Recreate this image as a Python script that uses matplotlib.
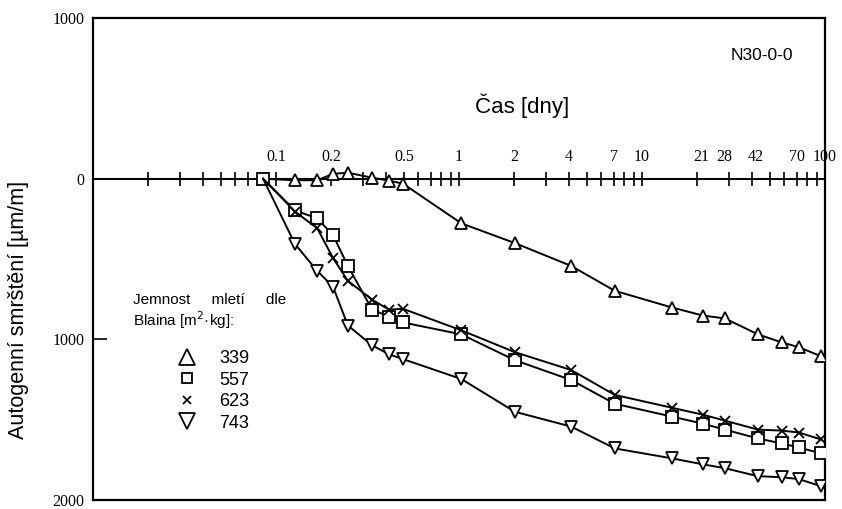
import matplotlib
matplotlib.use('Agg')
import matplotlib.pyplot as plt
from matplotlib.lines import Line2D
from matplotlib.ticker import LogLocator, FixedLocator, FixedFormatter, NullFormatter

# ---- data ----
cas_dny = [0.085, 0.127, 0.168, 0.205, 0.247, 0.335, 0.414, 0.494, 1.03, 2.02,
           4.1, 7.1, 14.6, 21.5, 28.4, 43, 58, 72, 95]
s339 = [0, 10, 10, -30, -37, -6, 12, 31, 278, 401, 543, 698, 802, 852, 870,
        969, 1019, 1049, 1105]
s557 = [0, 198, 247, 352, 543, 815, 858, 895, 969, 1130, 1253, 1401, 1481,
        1525, 1562, 1617, 1648, 1673, 1710]
s623 = [0, 205, 309, 494, 636, 753, 815, 810, 944, 1080, 1191, 1346, 1426,
        1469, 1506, 1562, 1568, 1580, 1623]
s743 = [0, 407, 574, 673, 914, 1037, 1093, 1123, 1247, 1451, 1543, 1679, 1741,
        1778, 1802, 1852, 1858, 1870, 1914]
jemnost = ['339', '557', '623', '743']

x_tick_vals = [0.1, 0.2, 0.5, 1, 2, 4, 7, 10, 21, 28, 42, 70, 100]
x_tick_labels = ['0.1', '0.2', '0.5', '1', '2', '4', '7', '10', '21', '28', '42', '70', '100']
y_tick_vals = [-1000, 0, 1000, 2000]
y_tick_labels = ['1000', '0', '1000', '2000']

W, H = 842, 509
fig = plt.figure(figsize=(W / 100, H / 100), dpi=100)
ax = fig.add_axes([93 / W, 1 - 500 / H, 732 / W, 482 / H])

series = [(s339, '^', 8.5, True), (s557, 's', 8, False),
          (s623, 'x', 7, True), (s743, 'v', 8.5, True)]
for vals, m, ms, skip_first in series:
    every = list(range(1, len(vals))) if skip_first else None
    ax.plot(cas_dny, vals, color='black', lw=1.4, marker=m, ms=ms,
            mfc='white', mec='black', mew=1.3, markevery=every, zorder=3)

ax.set_xscale('log')
ax.set_xlim(0.01, 100)
ax.set_ylim(2000, -1000)

# frame
for sp in ax.spines.values():
    sp.set_linewidth(1.6)
ax.spines['top'].set_position(('data', 0))
ax.spines['top'].set_linewidth(1.5)
ax.plot([0, 1], [1, 1], transform=ax.transAxes, color='black', lw=1.6,
        clip_on=False)

# x axis (time) along the zero line
ax.xaxis.tick_top()
ax.xaxis.remove_overlapping_locs = False
ax.xaxis.set_major_locator(FixedLocator(x_tick_vals))
ax.xaxis.set_major_formatter(FixedFormatter(x_tick_labels))
ax.xaxis.set_minor_locator(LogLocator(base=10, subs=range(1, 10), numticks=50))
ax.xaxis.set_minor_formatter(NullFormatter())
ax.tick_params(axis='x', which='major', length=0, pad=10, labelsize=11.5)
ax.tick_params(axis='x', which='minor', direction='inout', length=10, width=1.2)
for lab in ax.get_xticklabels():
    lab.set_fontfamily('Liberation Serif')

# y axis
ax.set_yticks(y_tick_vals)
ax.set_yticklabels(y_tick_labels, fontfamily='Liberation Serif', fontsize=11.5)
ax.tick_params(axis='y', direction='in', length=10, width=1.2, pad=6)

# texts
fig.text(19 / W, 1 - 310 / H, 'Autogenní smrštění [µm/m]', rotation=90,
         ha='center', va='center', fontsize=15.5, family='Liberation Sans')
fig.text(522 / W, 1 - 106 / H, 'Čas [dny]', ha='center', va='center',
         fontsize=16, family='Liberation Sans')
fig.text(762 / W, 1 - 56 / H, 'N30-0-0', ha='center', va='center',
         fontsize=12.5, family='Liberation Sans')
fig.text(133 / W, 1 - 300 / H, 'Jemnost     mletí     dle', ha='left',
         va='center', fontsize=11, family='Liberation Sans')
fig.text(133 / W, 1 - 320 / H, 'Blaina [m$^2$·kg]:', ha='left', va='center',
         fontsize=11, family='Liberation Sans')

handles = [
    Line2D([], [], ls='none', marker='^', ms=11, mfc='white', mec='black', mew=1.3),
    Line2D([], [], ls='none', marker='s', ms=7, mfc='white', mec='black', mew=1.3),
    Line2D([], [], ls='none', marker='x', ms=6, mfc='white', mec='black', mew=1.3),
    Line2D([], [], ls='none', marker='v', ms=11, mfc='white', mec='black', mew=1.3),
]
fig.legend(handles, jemnost, loc='upper left', bbox_to_anchor=(178 / W, 1 - 350 / H),
           frameon=False, borderpad=0, borderaxespad=0, handlelength=1.0,
           handletextpad=1.3, labelspacing=0.25,
           prop={'family': 'Liberation Sans', 'size': 13})

fig.savefig('out.png', dpi=100)
